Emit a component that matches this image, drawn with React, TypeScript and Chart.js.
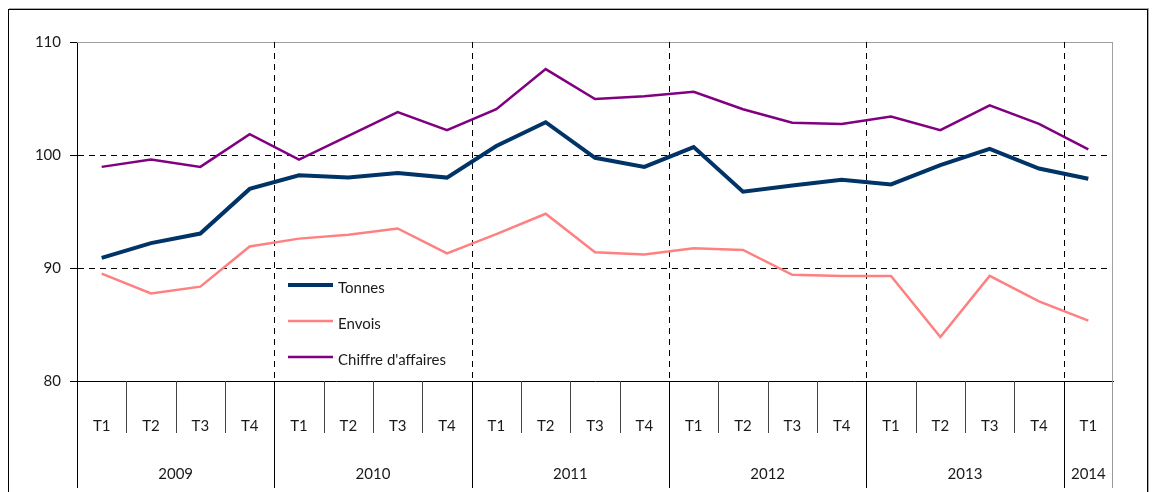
import React, { useEffect, useRef } from "react";
import { Chart, registerables } from "chart.js";

Chart.register(...registerables);

const quarters = [
  "T1", "T2", "T3", "T4",
  "T1", "T2", "T3", "T4",
  "T1", "T2", "T3", "T4",
  "T1", "T2", "T3", "T4",
  "T1", "T2", "T3", "T4",
  "T1",
];
const years = ["2009", "2010", "2011", "2012", "2013", "2014"];
const yearSpans = [4, 4, 4, 4, 4, 1];

const tonnes = [90.9, 92.2, 93.05, 97.0, 98.2, 98.0, 98.4, 98.0, 100.8, 102.9, 99.75, 98.95, 100.7, 96.75, 97.3, 97.8, 97.4, 99.1, 100.55, 98.8, 97.9];
const envois = [89.5, 87.75, 88.35, 91.9, 92.6, 92.95, 93.5, 91.3, 93.0, 94.8, 91.4, 91.2, 91.75, 91.6, 89.4, 89.3, 89.3, 83.9, 89.3, 87.05, 85.35];
const chiffre = [98.95, 99.6, 98.95, 101.85, 99.6, 101.7, 103.8, 102.2, 104.05, 107.6, 104.95, 105.2, 105.6, 104.05, 102.85, 102.75, 103.4, 102.2, 104.4, 102.75, 100.5];

const seriesNames = ["Tonnes", "Envois", "Chiffre d'affaires"];
const yMin = 80;
const yMax = 110;
const yStep = 10;

const FONT = "Lato, 'Open Sans', sans-serif";
const TEXT = "#1a1a1a";

const decorPlugin = {
  id: "decor",
  beforeDatasetsDraw(chart: any) {
    const { ctx, chartArea: ca, scales } = chart;
    const x = scales.x;
    const half = (x.getPixelForValue(1) - x.getPixelForValue(0)) / 2;
    ctx.save();
    // plot border top/right (gray)
    ctx.strokeStyle = "#a0a0a0";
    ctx.lineWidth = 1;
    ctx.beginPath();
    ctx.moveTo(ca.left, Math.round(ca.top) + 0.5);
    ctx.lineTo(Math.round(ca.right) - 0.5, Math.round(ca.top) + 0.5);
    ctx.lineTo(Math.round(ca.right) - 0.5, ca.bottom);
    ctx.stroke();
    // dashed year boundaries inside plot
    ctx.strokeStyle = "#000";
    ctx.setLineDash([6, 5]);
    let idx = 0;
    for (let i = 0; i < yearSpans.length - 1; i++) {
      idx += yearSpans[i];
      const px = Math.round(x.getPixelForValue(idx) - half) + 0.5;
      ctx.beginPath();
      ctx.moveTo(px, ca.top);
      ctx.lineTo(px, ca.bottom);
      ctx.stroke();
    }
    ctx.restore();
  },
  afterDraw(chart: any) {
    const { ctx, chartArea: ca, scales } = chart;
    const x = scales.x;
    const n = quarters.length;
    const half = (x.getPixelForValue(1) - x.getPixelForValue(0)) / 2;
    const bnd = (k: number) => Math.round(x.getPixelForValue(k) - half) + 0.5;
    ctx.save();
    ctx.lineWidth = 1;
    // quarter separators
    const yearStarts = new Set<number>();
    let acc = 0;
    yearStarts.add(0);
    yearSpans.forEach((s) => { acc += s; yearStarts.add(acc); });
    for (let k = 0; k <= n; k++) {
      if (yearStarts.has(k)) continue;
      ctx.strokeStyle = "#444";
      ctx.beginPath();
      ctx.moveTo(bnd(k), ca.bottom);
      ctx.lineTo(bnd(k), ca.bottom + 52);
      ctx.stroke();
    }
    // year separators and labels
    let start = 0;
    ctx.font = `15px ${FONT}`;
    ctx.fillStyle = TEXT;
    ctx.textAlign = "center";
    ctx.textBaseline = "middle";
    for (let i = 0; i <= yearSpans.length; i++) {
      const k = start;
      ctx.strokeStyle = k === n ? "#999" : "#000";
      ctx.beginPath();
      ctx.moveTo(k === n ? Math.round(ca.right) - 0.5 : bnd(k), ca.bottom);
      ctx.lineTo(k === n ? Math.round(ca.right) - 0.5 : bnd(k), ca.bottom + 107);
      ctx.stroke();
      if (i < yearSpans.length) {
        const end = start + yearSpans[i];
        const cx = (x.getPixelForValue(start) + x.getPixelForValue(end - 1)) / 2;
        ctx.fillText(years[i], cx, ca.bottom + 93);
        start = end;
      }
    }
    // legend
    const lx = ca.left + 211;
    const ly = ca.top + 243;
    const gap = 36;
    chart.data.datasets.forEach((ds: any, i: number) => {
      const y = ly + i * gap;
      ctx.strokeStyle = ds.borderColor;
      ctx.lineWidth = ds.borderWidth;
      ctx.beginPath();
      ctx.moveTo(lx, y);
      ctx.lineTo(lx + 45, y);
      ctx.stroke();
      ctx.fillStyle = TEXT;
      ctx.textAlign = "left";
      ctx.textBaseline = "middle";
      ctx.fillText(ds.label, lx + 50, y + 3);
    });
    ctx.restore();
  },
};

export default function App() {
  const ref = useRef<HTMLCanvasElement>(null);
  useEffect(() => {
    if (!ref.current) return;
    const chart = new Chart(ref.current, {
      type: "line",
      data: {
        labels: quarters,
        datasets: [
          { label: seriesNames[0], data: tonnes, borderColor: "#003366", borderWidth: 4, pointRadius: 0, tension: 0, fill: false },
          { label: seriesNames[1], data: envois, borderColor: "#ff8080", borderWidth: 2.5, pointRadius: 0, tension: 0, fill: false },
          { label: seriesNames[2], data: chiffre, borderColor: "#800080", borderWidth: 2.5, pointRadius: 0, tension: 0, fill: false },
        ],
      },
      options: {
        responsive: false,
        animation: false,
        devicePixelRatio: 1,
        layout: { padding: { left: 0, top: 42, right: 39, bottom: 0 } },
        plugins: { legend: { display: false }, tooltip: { enabled: false } },
        scales: {
          x: {
            type: "category",
            offset: true,
            grid: { display: false, drawTicks: false },
            border: { display: true, color: "#000", width: 1 },
            ticks: { font: { family: FONT, size: 15 }, color: TEXT, padding: 36, maxRotation: 0, autoSkip: false },
            afterFit: (s: any) => { s.height = 111; },
          },
          y: {
            min: yMin,
            max: yMax,
            ticks: { stepSize: yStep, font: { family: FONT, size: 15 }, color: TEXT, padding: 9 },
            grid: {
              color: (c: any) => (c.tick && c.tick.value === yMax ? "#808080" : c.tick && c.tick.value === yMin ? "rgba(0,0,0,0)" : "#000"),
              tickColor: "#000",
              tickLength: 7,
              tickBorderDash: [],
              lineWidth: 1,
            },
            border: { display: true, color: "#000", width: 1, dash: [6, 5] },
            afterFit: (s: any) => { s.width = 77; },
          },
        },
      },
      plugins: [decorPlugin],
    });
    return () => chart.destroy();
  }, []);

  return (
    <div style={{ position: "fixed", left: 0, top: 0, width: 1152, height: 492, overflow: "hidden", background: "#fff" }}>
      <div style={{ position: "absolute", left: 8, top: 9, width: 1138, height: 600, border: "1px solid #000", boxShadow: "1px -1px 0 #aaa" }} />
      <canvas ref={ref} width={1152} height={492} style={{ position: "absolute", left: 0, top: 0, width: 1152, height: 492 }} />
    </div>
  );
}
